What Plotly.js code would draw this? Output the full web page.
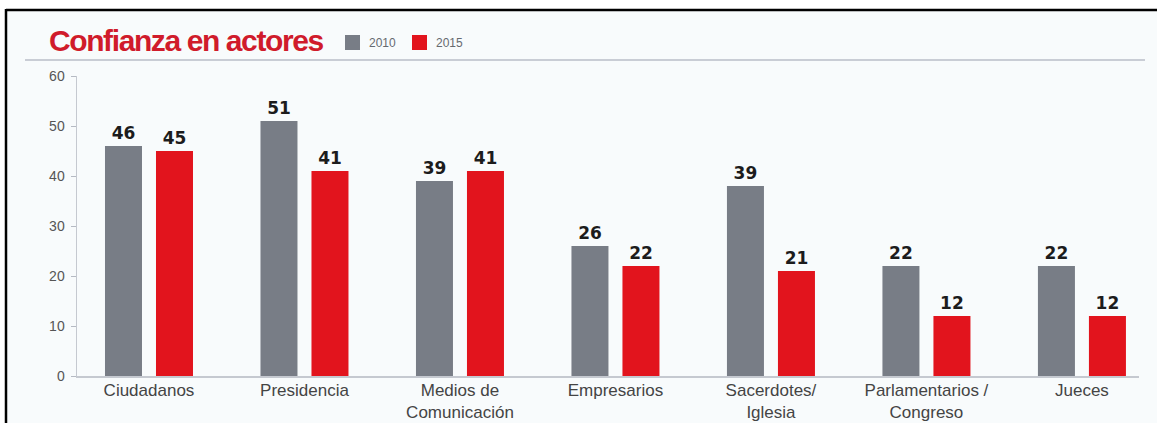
<!DOCTYPE html>
<html>
<head>
<meta charset="utf-8">
<script src="https://cdn.plot.ly/plotly-3.0.1.min.js"></script>
<style>
  html, body { margin: 0; padding: 0; background: #ffffff; }
  #chart { width: 1157px; height: 423px; }
  .gtitle { letter-spacing: -1.4px; }
</style>
</head>
<body>
<div id="chart"></div>
<script>
// ---- data ----
const categories = ['Ciudadanos', 'Presidencia', 'Medios de<br>Comunicación', 'Empresarios',
                    'Sacerdotes/<br>Iglesia', 'Parlamentarios /<br>Congreso', 'Jueces'];
const values2010 = [46, 51, 39, 26, 38, 22, 22];
const values2015 = [45, 41, 41, 22, 21, 12, 12];
const labels2010 = ['46', '51', '39', '26', '39', '22', '22'];
const labels2015 = ['45', '41', '41', '22', '21', '12', '12'];
const seriesNames = ['2010', '2015'];
const yTicks = [0, 10, 20, 30, 40, 50, 60];
const chartTitle = 'Confianza en actores';

// ---- layout helpers ----
const W = 1157, H = 423, L = 77, R = 18, T = 76, B = 47;
const PW = W - L - R, PH = H - T - B;
const px2x = p => (p - L) / PW;
const py2y = p => (H - B - p) / PH;

const GRAY = '#787d86', RED = '#e2141d';
const labelFont = {family: 'DejaVu Sans', size: 17, color: '#1c1c1c', weight: 'bold'};

const traces = [
  {type: 'bar', name: seriesNames[0], x: categories, y: values2010, text: labels2010,
   texttemplate: '%{text}', textposition: 'outside', textfont: labelFont,
   constraintext: 'none', cliponaxis: false, marker: {color: GRAY}, hoverinfo: 'skip', showlegend: false},
  {type: 'bar', name: seriesNames[1], x: categories, y: values2015, text: labels2015,
   texttemplate: '%{text}', textposition: 'outside', textfont: labelFont,
   constraintext: 'none', cliponaxis: false, marker: {color: RED}, hoverinfo: 'skip', showlegend: false}
];

const shapes = [
  // light panel background
  {type: 'rect', xref: 'paper', yref: 'paper', layer: 'below',
   x0: px2x(7), x1: px2x(W + 20), y0: py2y(H + 20), y1: py2y(10),
   fillcolor: '#f8fbfc', line: {width: 0}},
  // frame lines (top and left)
  {type: 'line', xref: 'paper', yref: 'paper', x0: px2x(6), x1: px2x(W + 5), y0: py2y(10), y1: py2y(10),
   line: {color: '#000000', width: 2.5}},
  {type: 'line', xref: 'paper', yref: 'paper', x0: px2x(6), x1: px2x(6), y0: py2y(9), y1: py2y(H + 5),
   line: {color: '#000000', width: 2.5}},
  // separator under title
  {type: 'line', xref: 'paper', yref: 'paper', x0: px2x(25), x1: px2x(1145), y0: py2y(60), y1: py2y(60),
   line: {color: '#c9cdd5', width: 2}},
  // legend squares
  {type: 'rect', xref: 'paper', yref: 'paper', x0: px2x(345), x1: px2x(360), y0: py2y(50), y1: py2y(35),
   fillcolor: GRAY, line: {width: 0}},
  {type: 'rect', xref: 'paper', yref: 'paper', x0: px2x(412), x1: px2x(427), y0: py2y(50), y1: py2y(35),
   fillcolor: RED, line: {width: 0}}
];

const annotations = [
  {xref: 'paper', yref: 'paper', x: px2x(367), y: py2y(43), xanchor: 'left', yanchor: 'middle',
   text: seriesNames[0], showarrow: false, font: {family: 'Liberation Sans', size: 12, color: '#666a70'}},
  {xref: 'paper', yref: 'paper', x: px2x(434), y: py2y(43), xanchor: 'left', yanchor: 'middle',
   text: seriesNames[1], showarrow: false, font: {family: 'Liberation Sans', size: 12, color: '#666a70'}}
];

const layout = {
  width: W, height: H,
  margin: {l: L, r: R, t: T, b: B},
  paper_bgcolor: '#ffffff',
  plot_bgcolor: 'rgba(0,0,0,0)',
  title: {text: '<b>' + chartTitle + '</b>', xref: 'container', yref: 'container',
          x: 49 / W, xanchor: 'left', y: 1 - 40 / H, yanchor: 'middle',
          font: {family: 'Liberation Sans', size: 30, color: '#d01b2b'}},
  barmode: 'group',
  bargap: 0.344,
  bargroupgap: 0.2745,
  showlegend: false,
  xaxis: {type: 'category', range: [-0.463, 6.367], showline: true, linecolor: '#c5c9d0', linewidth: 1.5,
          ticks: '', showgrid: false, zeroline: false, fixedrange: true, ticklabelstandoff: -2,
          tickfont: {family: 'Liberation Sans', size: 17, color: '#444444'}},
  yaxis: {range: [0, 60], tickvals: yTicks, ticks: 'outside', ticklen: 5, tickcolor: '#b5bac3', tickwidth: 1,
          showline: true, linecolor: '#c5c9d0', linewidth: 1.5, showgrid: false, zeroline: false,
          ticklabelstandoff: 3, fixedrange: true,
          tickfont: {family: 'Liberation Sans', size: 14, color: '#555555'}},
  shapes: shapes,
  annotations: annotations,
  font: {family: 'Liberation Sans'}
};

Plotly.newPlot('chart', traces, layout, {displayModeBar: false, staticPlot: true});
</script>
</body>
</html>
